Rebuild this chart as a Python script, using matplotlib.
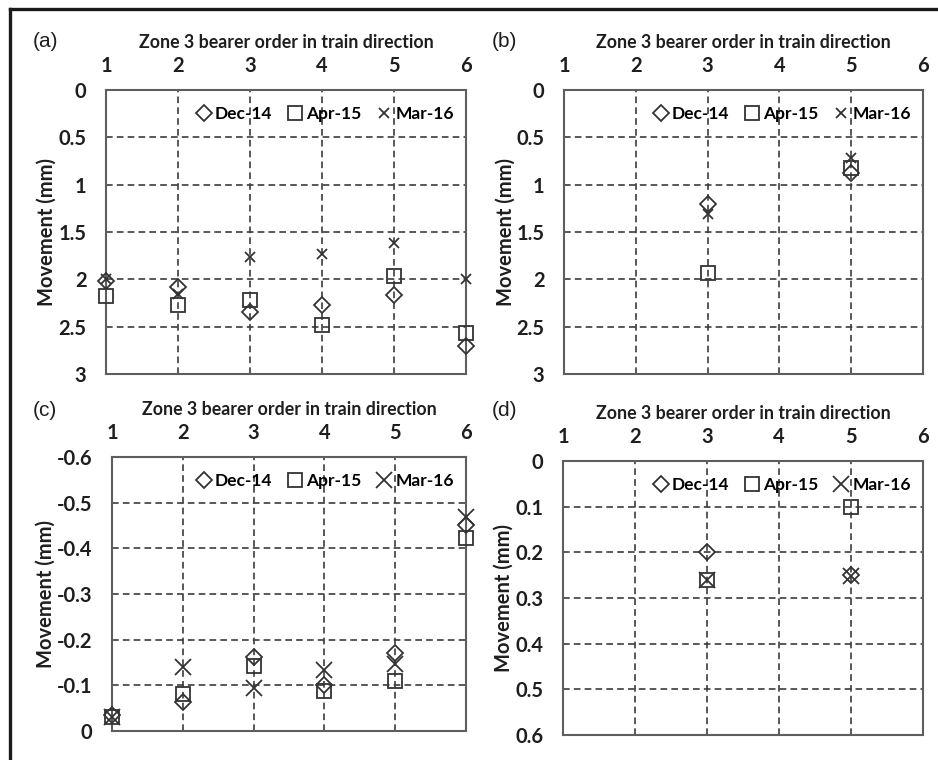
import matplotlib
matplotlib.use("Agg")
import matplotlib.pyplot as plt
import numpy as np
from matplotlib.ticker import MultipleLocator, FuncFormatter
from matplotlib.lines import Line2D

savefile = "out.png"

# bearer order (x) and movement (mm)
x_full = [1, 2, 3, 4, 5, 6]
x_part = [3, 5]

a_dec14 = [2.02, 2.08, 2.35, 2.27, 2.17, 2.70]
a_apr15 = [2.18, 2.27, 2.22, 2.48, 1.96, 2.57]
a_mar16 = [2.00, 2.15, 1.76, 1.73, 1.62, 2.00]

b_dec14 = [1.20, 0.88]
b_apr15 = [1.93, 0.82]
b_mar16 = [1.31, 0.72]

c_dec14 = [-0.035, -0.064, -0.162, -0.100, -0.171, -0.451]
c_apr15 = [-0.030, -0.082, -0.142, -0.088, -0.109, -0.423]
c_mar16 = [-0.030, -0.139, -0.095, -0.134, -0.146, -0.468]

d_dec14 = [0.20, 0.25]
d_apr15 = [0.26, 0.10]
d_mar16 = [0.26, 0.252]

series_names = ["Dec-14", "Apr-15", "Mar-16"]
panel_labels = ["(a)", "(b)", "(c)", "(d)"]
xlabel = "Zone 3 bearer order in train direction"
ylabel = "Movement (mm)"

plt.rcParams["font.family"] = ["Lato", "DejaVu Sans"]
mk_col = "#333333"
grid_col = "#3c3c3c"
txt_col = "#1e1e1e"

fig = plt.figure(figsize=(9.38, 7.6), dpi=100)

panels = [
    # rect, x, data, ylim, step, big x marker
    ([0.113, 0.5079, 0.3838, 0.3737], x_full, (a_dec14, a_apr15, a_mar16), (3, 0), 0.5, False),
    ([0.6013, 0.5079, 0.3827, 0.3737], x_part, (b_dec14, b_apr15, b_mar16), (3, 0), 0.5, False),
    ([0.1194, 0.0382, 0.3774, 0.3605], x_full, (c_dec14, c_apr15, c_mar16), (0, -0.6), 0.1, True),
    ([0.6002, 0.0329, 0.3838, 0.3605], x_part, (d_dec14, d_apr15, d_mar16), (0.6, 0), 0.1, True),
]

for i, (rect, xs, data, ylim, step, bigx) in enumerate(panels):
    ax = fig.add_axes(rect)
    dec, apr, mar = data
    ax.plot(xs, dec, linestyle="none", marker="D", markersize=8, mfc="none",
            mec=mk_col, mew=1.3, label=series_names[0], clip_on=False, zorder=3)
    ax.plot(xs, apr, linestyle="none", marker="s", markersize=10.5, mfc="none",
            mec=mk_col, mew=1.3, label=series_names[1], clip_on=False, zorder=3)
    ax.plot(xs, mar, linestyle="none", marker="x", markersize=11 if bigx else 7,
            mec=mk_col, mew=1.3, label=series_names[2], clip_on=False, zorder=3)

    ax.set_xlim(1, 6)
    ax.set_ylim(ylim)
    ax.xaxis.set_major_locator(MultipleLocator(1))
    ax.yaxis.set_major_locator(MultipleLocator(step))
    ax.yaxis.set_major_formatter(FuncFormatter(lambda v, p: "%g" % round(v, 3)))
    ax.xaxis.tick_top()
    ax.xaxis.set_label_position("top")
    ax.tick_params(axis="both", length=0, labelsize=14.5, colors=txt_col)
    ax.tick_params(axis="x", pad=10)
    ax.tick_params(axis="y", pad=14)
    for lab in ax.get_xticklabels() + ax.get_yticklabels():
        lab.set_fontweight("bold")
    ax.set_xlabel(xlabel, fontsize=12.8, fontweight="bold", color=txt_col, labelpad=6)
    ax.set_ylabel(ylabel, fontsize=14.5, fontweight="bold", color=txt_col, labelpad=1)
    ax.grid(True, linestyle=(0, (4, 2.5)), color=grid_col, linewidth=1.2)
    for s in ax.spines.values():
        s.set_color("#5e5e5e")
        s.set_linewidth(1.5)

    ax.legend(loc="upper right", ncol=3, frameon=False,
              prop={"weight": "bold", "size": 12.5}, handletextpad=0.15,
              columnspacing=0.8, handlelength=1.0, borderaxespad=0.3,
              bbox_to_anchor=(1.0, 0.985))

fig.text(0.048, 0.945, panel_labels[0], fontsize=15, family="Liberation Sans", color=txt_col, ha="center", va="center")
fig.text(0.538, 0.945, panel_labels[1], fontsize=15, family="Liberation Sans", color=txt_col, ha="center", va="center")
fig.text(0.048, 0.460, panel_labels[2], fontsize=15, family="Liberation Sans", color=txt_col, ha="center", va="center")
fig.text(0.538, 0.460, panel_labels[3], fontsize=15, family="Liberation Sans", color=txt_col, ha="center", va="center")

# partial frame round the figure (top and left edges)
fig.add_artist(Line2D([0.0107, 1.0], [0.988, 0.988], transform=fig.transFigure, color="#1a1a1a", linewidth=2.4))
fig.add_artist(Line2D([0.0107, 0.0107], [0.0, 0.988], transform=fig.transFigure, color="#1a1a1a", linewidth=2.4))

plt.savefig(savefile, dpi=100)
print(f"Saved to {savefile}")
